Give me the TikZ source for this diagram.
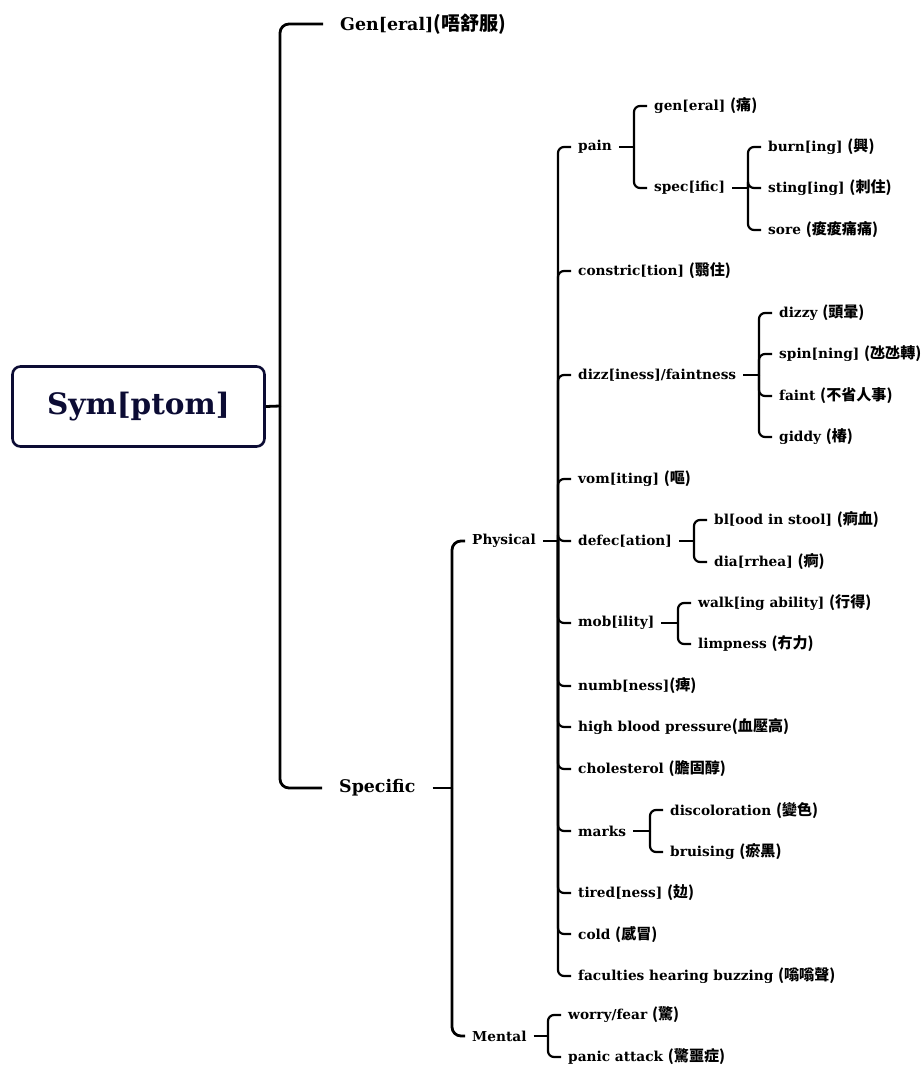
\documentclass[tikz,border=0pt]{standalone}
\usepackage{fontspec}
\setmainfont{DejaVu Serif}
\newfontfamily\cjkfont{Noto Sans CJK TC}[Scale=1.1]
\usetikzlibrary{positioning}
\definecolor{rootnavy}{RGB}{12,12,52}
\newcommand{\zh}[1]{{\cjkfont\bfseries #1}}
\tikzset{
  rootbox/.style = {draw=rootnavy,line width=2.6pt,rounded corners=8pt,
                    minimum width=252pt,minimum height=80pt,text=rootnavy,
                    font=\fontsize{29.5}{33}\selectfont\bfseries},
  bigitem/.style = {anchor=west,inner xsep=17pt,
                    font=\fontsize{17.4}{20}\selectfont\bfseries},
  item/.style    = {anchor=west,inner xsep=7pt,
                    font=\fontsize{13.7}{16}\selectfont\bfseries},
  trunk/.style   = {line width=2.8pt,rounded corners=9pt},
  link/.style    = {line width=2.2pt,rounded corners=6pt},
}
\begin{document}
\begin{tikzpicture}[x=1pt,y=-1pt]
  \useasboundingbox (0,0) rectangle (921,1065);
  % root and first level
  \node[rootbox] (sym) at (138.5,406.5) {Sym[ptom]};
  \node[bigitem] (gen) at (323,24) {Gen[eral]\zh{(唔舒服)}};
  \node[bigitem] (spec) at (322,788) {Specific};
  \coordinate (symj) at (280,406);
  \draw[trunk] (sym.east) -- (symj);
  \draw[trunk] (symj) |- (gen.west);
  \draw[trunk] (symj) |- (spec.west);
  % specific
  \node[item] (phys) at (465,541) {Physical};
  \node[item] (ment) at (465,1036) {Mental};
  \coordinate (specj) at (452,788);
  \draw[trunk] (spec.east) -- (specj);
  \draw[trunk] (specj) |- (phys.west);
  \draw[trunk] (specj) |- (ment.west);
  % physical
  \coordinate (physj) at (558,541);
  \draw[link] (phys.east) -- (physj);
  \foreach \n/\y/\txt in {pain/147/pain,
                          constr/271/{constric[tion] \zh{(翳住)}},
                          dizz/375/{dizz[iness]/faintness},
                          vom/479/{vom[iting] \zh{(嘔)}},
                          defec/541/{defec[ation]},
                          mob/623/{mob[ility]},
                          numb/686/{numb[ness]\zh{(痺)}},
                          hbp/727/{high blood pressure\zh{(血壓高)}},
                          chol/769/{cholesterol \zh{(膽固醇)}},
                          marks/831/marks,
                          tired/893/{tired[ness] \zh{(攰)}},
                          cold/934/{cold \zh{(感冒)}},
                          facul/976/{faculties hearing buzzing \zh{(嗡嗡聲)}}}{
    \node[item] (\n) at (571,\y) {\txt};
    \draw[link] (physj) |- (\n.west);
  }
  % pain
  \node[item] (paingen) at (647,106) {gen[eral] \zh{(痛)}};
  \node[item] (painspec) at (647,188) {spec[ific]};
  \coordinate (painj) at (634,147);
  \draw[link] (pain.east) -- (painj);
  \draw[link] (painj) |- (paingen.west);
  \draw[link] (painj) |- (painspec.west);
  \coordinate (painspecj) at (748,188);
  \draw[link] (painspec.east) -- (painspecj);
  \foreach \n/\y/\txt in {burn/147/{burn[ing] \zh{(興)}},
                          sting/188/{sting[ing] \zh{(刺住)}},
                          sore/230/{sore \zh{(痠痠痛痛)}}}{
    \node[item] (\n) at (761,\y) {\txt};
    \draw[link] (painspecj) |- (\n.west);
  }
  % dizziness
  \coordinate (dizzj) at (759,375);
  \draw[link] (dizz.east) -- (dizzj);
  \foreach \n/\y/\txt in {dizzy/313/{dizzy \zh{(頭暈)}},
                          spin/354/{spin[ning] \zh{(氹氹轉)}},
                          faint/396/{faint \zh{(不省人事)}},
                          giddy/437/{giddy \zh{(椿)}}}{
    \node[item] (\n) at (772,\y) {\txt};
    \draw[link] (dizzj) |- (\n.west);
  }
  % defecation
  \node[item] (blood) at (707,520) {bl[ood in stool] \zh{(痾血)}};
  \node[item] (diar) at (707,562) {dia[rrhea] \zh{(痾)}};
  \coordinate (defecj) at (694,541);
  \draw[link] (defec.east) -- (defecj);
  \draw[link] (defecj) |- (blood.west);
  \draw[link] (defecj) |- (diar.west);
  % mobility
  \node[item] (walk) at (691,603) {walk[ing ability] \zh{(行得)}};
  \node[item] (limp) at (691,644) {limpness \zh{(冇力)}};
  \coordinate (mobj) at (678,623);
  \draw[link] (mob.east) -- (mobj);
  \draw[link] (mobj) |- (walk.west);
  \draw[link] (mobj) |- (limp.west);
  % marks
  \node[item] (discol) at (663,810) {discoloration \zh{(變色)}};
  \node[item] (bruis) at (663,852) {bruising \zh{(瘀黑)}};
  \coordinate (marksj) at (650,831);
  \draw[link] (marks.east) -- (marksj);
  \draw[link] (marksj) |- (discol.west);
  \draw[link] (marksj) |- (bruis.west);
  % mental
  \node[item] (worry) at (561,1015) {worry/fear \zh{(驚)}};
  \node[item] (panic) at (561,1057) {panic attack \zh{(驚噩症)}};
  \coordinate (mentj) at (548,1036);
  \draw[link] (ment.east) -- (mentj);
  \draw[link] (mentj) |- (worry.west);
  \draw[link] (mentj) |- (panic.west);
\end{tikzpicture}
\end{document}
